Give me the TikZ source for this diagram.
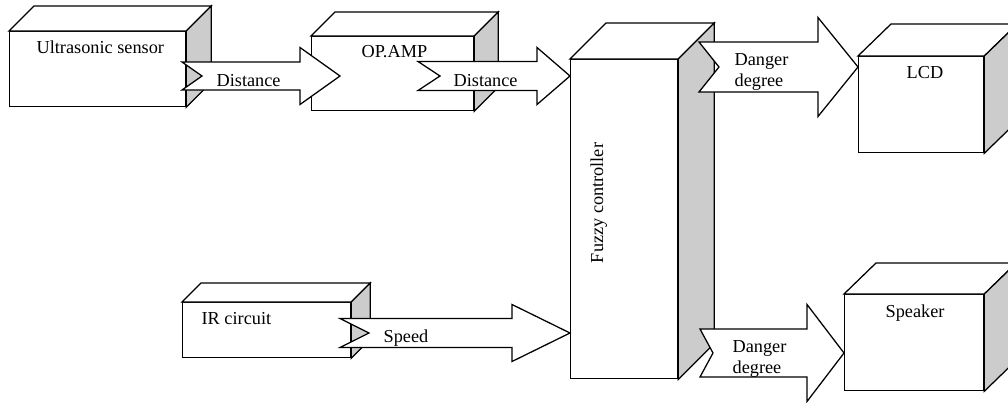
\documentclass[tikz,border=0pt]{standalone}
\usepackage{fontspec}
\setmainfont{Liberation Serif}
\usepackage{tikz}
\usetikzlibrary{calc}

% block arrow: tail, tip, half body, half head, head length, notch
\newcommand{\blockarrow}[6]{%
	\draw[arrowbody] ($(#1)+(0,-#3)$) -- ($(#2)+(-#5,-#3)$) -- ($(#2)+(-#5,-#4)$) -- (#2)
		-- ($(#2)+(-#5,#4)$) -- ($(#2)+(-#5,#3)$) -- ($(#1)+(0,#3)$) -- ($(#1)+(#6,0)$) -- cycle;}

\begin{document}
\begin{tikzpicture}[x=0.025cm,y=-0.025cm,line width=0.9pt,
	face/.style={draw=black,fill=white,inner sep=0pt,anchor=north west},
	lid/.style={draw=black,fill=white},
	shade/.style={draw=black,fill=gray!40},
	arrowbody/.style={draw=black,fill=white},
	lbl/.style={inner sep=0pt,anchor=base west,font=\fontsize{13}{15}\selectfont}]
	\useasboundingbox (0,0) rectangle (1008,402);

	\node[face,minimum width=4.4cm,minimum height=1.875cm] (us) at (9,31) {};
	\node[face,minimum width=4.05cm,minimum height=1.85cm] (op) at (311,36) {};
	\node[face,minimum width=2.675cm,minimum height=7.975cm] (fz) at (570,59) {};
	\node[face,minimum width=3.125cm,minimum height=2.4cm] (lcd) at (858,56) {};
	\node[face,minimum width=4.2cm,minimum height=1.375cm] (ir) at (182,302) {};
	\node[face,minimum width=3.475cm,minimum height=2.4cm] (spk) at (844,294) {};

	\draw[lid] (us.north west) -- ++(25,-25) -- ([shift={(25,-25)}]us.north east) -- (us.north east) -- cycle;
	\draw[shade] (us.north east) -- ++(25,-25) -- ([shift={(25,-25)}]us.south east) -- (us.south east) -- cycle;
	\draw[lid] (op.north west) -- ++(24,-24) -- ([shift={(24,-24)}]op.north east) -- (op.north east) -- cycle;
	\draw[shade] (op.north east) -- ++(24,-24) -- ([shift={(24,-24)}]op.south east) -- (op.south east) -- cycle;
	\draw[lid] (fz.north west) -- ++(36,-36) -- ([shift={(36,-36)}]fz.north east) -- (fz.north east) -- cycle;
	\draw[shade] (fz.north east) -- ++(36,-36) -- ([shift={(36,-36)}]fz.south east) -- (fz.south east) -- cycle;
	\draw[lid] (lcd.north west) -- ++(33,-32) -- ([shift={(33,-32)}]lcd.north east) -- (lcd.north east) -- cycle;
	\draw[shade] (lcd.north east) -- ++(33,-32) -- ([shift={(33,-32)}]lcd.south east) -- (lcd.south east) -- cycle;
	\draw[lid] (ir.north west) -- ++(19,-19) -- ([shift={(19,-19)}]ir.north east) -- (ir.north east) -- cycle;
	\draw[shade] (ir.north east) -- ++(19,-19) -- ([shift={(19,-19)}]ir.south east) -- (ir.south east) -- cycle;
	\draw[lid] (spk.north west) -- ++(32,-31) -- ([shift={(32,-31)}]spk.north east) -- (spk.north east) -- cycle;
	\draw[shade] (spk.north east) -- ++(32,-31) -- ([shift={(32,-31)}]spk.south east) -- (spk.south east) -- cycle;

	\coordinate (usout) at (182,76);
	\coordinate (opin) at (340,76);
	\coordinate (opout) at (418,76);
	\coordinate (fzin1) at (570,76);
	\coordinate (irout) at (340,333);
	\coordinate (fzin2) at (570,333);
	\coordinate (fzout1) at (699,67);
	\coordinate (lcdin) at (858,67);
	\coordinate (fzout2) at (700,353);
	\coordinate (spkin) at (844,353);

	\blockarrow{usout}{opin}{14}{28.5}{40}{20}
	\blockarrow{opout}{fzin1}{14.5}{28.5}{33}{22}
	\blockarrow{irout}{fzin2}{14.5}{28.5}{58}{29}
	\blockarrow{fzout1}{lcdin}{25}{49.5}{40}{20}
	\blockarrow{fzout2}{spkin}{24}{48.5}{37}{13}

	\node[lbl] (ustext) at (36,53) {Ultrasonic sensor};
	\node[lbl] (optext) at (361,57) {OP.AMP};
	\node[lbl] (irtext) at (201,324) {IR circuit};
	\node[lbl] (lcdtext) at (906,78) {LCD};
	\node[lbl] (spktext) at (885,317) {Speaker};
	\node[lbl,anchor=base,rotate=90] (fztext) at (603,203) {Fuzzy controller};
	\node[lbl] (dist1) at (216,86) {Distance};
	\node[lbl] (dist2) at (453,86) {Distance};
	\node[lbl] (speed) at (383,342) {Speed};
	\node[lbl,anchor=north west,align=left] (danger1) at (734,53) {Danger\\degree};
	\node[lbl,anchor=north west,align=left] (danger2) at (732,340) {Danger\\degree};

\end{tikzpicture}
\end{document}
